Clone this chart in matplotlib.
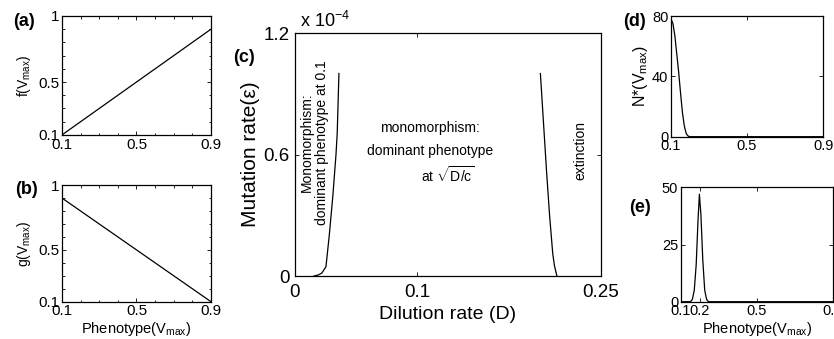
import matplotlib
matplotlib.use("Agg")
import matplotlib.pyplot as plt
from matplotlib.ticker import MultipleLocator

plt.rcParams['font.family'] = ['Liberation Sans', 'DejaVu Sans']
plt.rcParams['mathtext.fontset'] = 'custom'
plt.rcParams['mathtext.rm'] = 'Liberation Sans'
plt.rcParams['mathtext.it'] = 'Liberation Sans:italic'

# (a) / (b) trade-off functions
phen = [0.1, 0.9]
f_vals = [0.1, 0.9]
g_vals = [0.9, 0.1]

# (c) phase boundaries: dilution rate vs mutation rate (x 1e-4)
left_D = [0.0155, 0.019, 0.022, 0.0253, 0.028, 0.031, 0.0335, 0.0345, 0.0352, 0.0359]
left_eps = [0.0, 0.005, 0.015, 0.046, 0.20, 0.40, 0.60, 0.706, 0.85, 1.00]
right_D = [0.2005, 0.203, 0.2055, 0.208, 0.2106, 0.212, 0.214]
right_eps = [1.00, 0.76, 0.52, 0.30, 0.11, 0.05, 0.0]

# (d) equilibrium distribution, dominant at 0.1
d_V = [0.1, 0.11, 0.12, 0.13, 0.14, 0.15, 0.16, 0.17, 0.18, 0.19, 0.20, 0.9]
d_N = [78, 75, 67, 55, 43, 29, 16, 7, 2, 0.4, 0, 0]

# (e) equilibrium distribution, dominant near sqrt(D/c)
e_V = [0.1, 0.15, 0.16, 0.17, 0.18, 0.19, 0.197, 0.205, 0.215, 0.225, 0.235, 0.245, 0.9]
e_N = [0, 0, 1, 5, 16, 36, 47, 38, 18, 5, 1, 0, 0]

fig = plt.figure(figsize=(8.34, 3.39), dpi=100)


def style(ax, lab=10.5, xpad=2, ypad=2):
    ax.tick_params(direction='in', which='both', top=True, right=True,
                   labelsize=lab, length=3, width=0.6)
    ax.tick_params(axis='x', pad=xpad)
    ax.tick_params(axis='y', pad=ypad)
    ax.tick_params(which='minor', length=1.8)
    for s in ax.spines.values():
        s.set_linewidth(0.9)


lw = 0.9

ax_a = fig.add_axes([0.0743, 0.602, 0.1787, 0.351])
ax_a.plot(phen, f_vals, color='black', lw=lw)
ax_a.set_xlim(0.1, 0.9)
ax_a.set_ylim(0.1, 1)
ax_a.set_xticks([0.1, 0.5, 0.9], ['0.1', '0.5', '0.9'])
ax_a.set_yticks([0.1, 0.5, 1], ['0.1', '0.5', '1'])
ax_a.xaxis.set_minor_locator(MultipleLocator(0.1))
ax_a.yaxis.set_minor_locator(MultipleLocator(0.1))
ax_a.set_ylabel(r'f(V$_{\rm max}$)', fontsize=10, labelpad=4)
style(ax_a, 11)

ax_b = fig.add_axes([0.0743, 0.110, 0.1787, 0.344])
ax_b.plot(phen, g_vals, color='black', lw=lw)
ax_b.set_xlim(0.1, 0.9)
ax_b.set_ylim(0.1, 1)
ax_b.set_xticks([0.1, 0.5, 0.9], ['0.1', '0.5', '0.9'])
ax_b.set_yticks([0.1, 0.5, 1], ['0.1', '0.5', '1'])
ax_b.xaxis.set_minor_locator(MultipleLocator(0.1))
ax_b.yaxis.set_minor_locator(MultipleLocator(0.1))
ax_b.set_ylabel(r'g(V$_{\rm max}$)', fontsize=10, labelpad=4)
ax_b.set_xlabel(r'Phenotype(V$_{\rm max}$)', fontsize=10.5, labelpad=1)
style(ax_b, 11)

ax_c = fig.add_axes([0.3537, 0.1858, 0.3669, 0.7168])
ax_c.plot(left_D, left_eps, color='black', lw=lw)
ax_c.plot(right_D, right_eps, color='black', lw=lw)
ax_c.set_xlim(0, 0.25)
ax_c.set_ylim(0, 1.2)
ax_c.set_xticks([0, 0.1, 0.25], ['0', '0.1', '0.25'])
ax_c.set_yticks([0, 0.6, 1.2], ['0', '0.6', '1.2'])
ax_c.set_xlabel('Dilution rate (D)', fontsize=14, labelpad=3)
ax_c.set_ylabel('Mutation rate(\u03b5)', fontsize=15, labelpad=2)
style(ax_c, 13.5, xpad=6, ypad=4)
ax_c.text(0.004, 1.228, r'x 10$^{-4}$', fontsize=13, ha='left', va='baseline')
ax_c.text(0.0155, 0.66, 'Monomorphism:\ndominant phenotype at 0.1', rotation=90,
          fontsize=10, ha='center', va='center', linespacing=1.1)
ax_c.text(0.110, 0.731, 'monomorphism:', fontsize=10, ha='center', va='center')
ax_c.text(0.110, 0.619, 'dominant phenotype', fontsize=10, ha='center', va='center')
ax_c.text(0.1245, 0.499, r'at $\sqrt{\rm D/c}$', fontsize=10, ha='center', va='center')
ax_c.text(0.233, 0.62, 'extinction', rotation=90, fontsize=10, ha='center', va='center')

ax_d = fig.add_axes([0.8046, 0.5968, 0.1823, 0.356])
ax_d.plot(d_V, d_N, color='black', lw=lw)
ax_d.set_xlim(0.1, 0.9)
ax_d.set_ylim(0, 80)
ax_d.set_xticks([0.1, 0.5, 0.9], ['0.1', '0.5', '0.9'])
ax_d.set_yticks([0, 40, 80], ['0', '40', '80'])
ax_d.set_ylabel(r'N*(V$_{\rm max}$)', fontsize=11.5, labelpad=1)
style(ax_d, 10.5)

ax_e = fig.add_axes([0.8165, 0.110, 0.1823, 0.3375])
ax_e.plot(e_V, e_N, color='black', lw=lw)
ax_e.set_xlim(0.1, 0.9)
ax_e.set_ylim(0, 50)
ax_e.set_xticks([0.1, 0.2, 0.5, 0.9], ['0.1', '0.2', '0.5', '0.9'])
ax_e.set_yticks([0, 25, 50], ['0', '25', '50'])
ax_e.set_xlabel(r'Phenotype(V$_{\rm max}$)', fontsize=10.5, labelpad=1)
style(ax_e, 10.5)

for x, y, t in [(24, 22, '(a)'), (26, 189, '(b)'), (244, 57, '(c)'),
                (635, 22, '(d)'), (640, 208, '(e)')]:
    fig.text(x / 834, 1 - y / 339, t, fontsize=13, fontweight='bold',
             ha='center', va='center')

fig.savefig('out.png', dpi=100)
